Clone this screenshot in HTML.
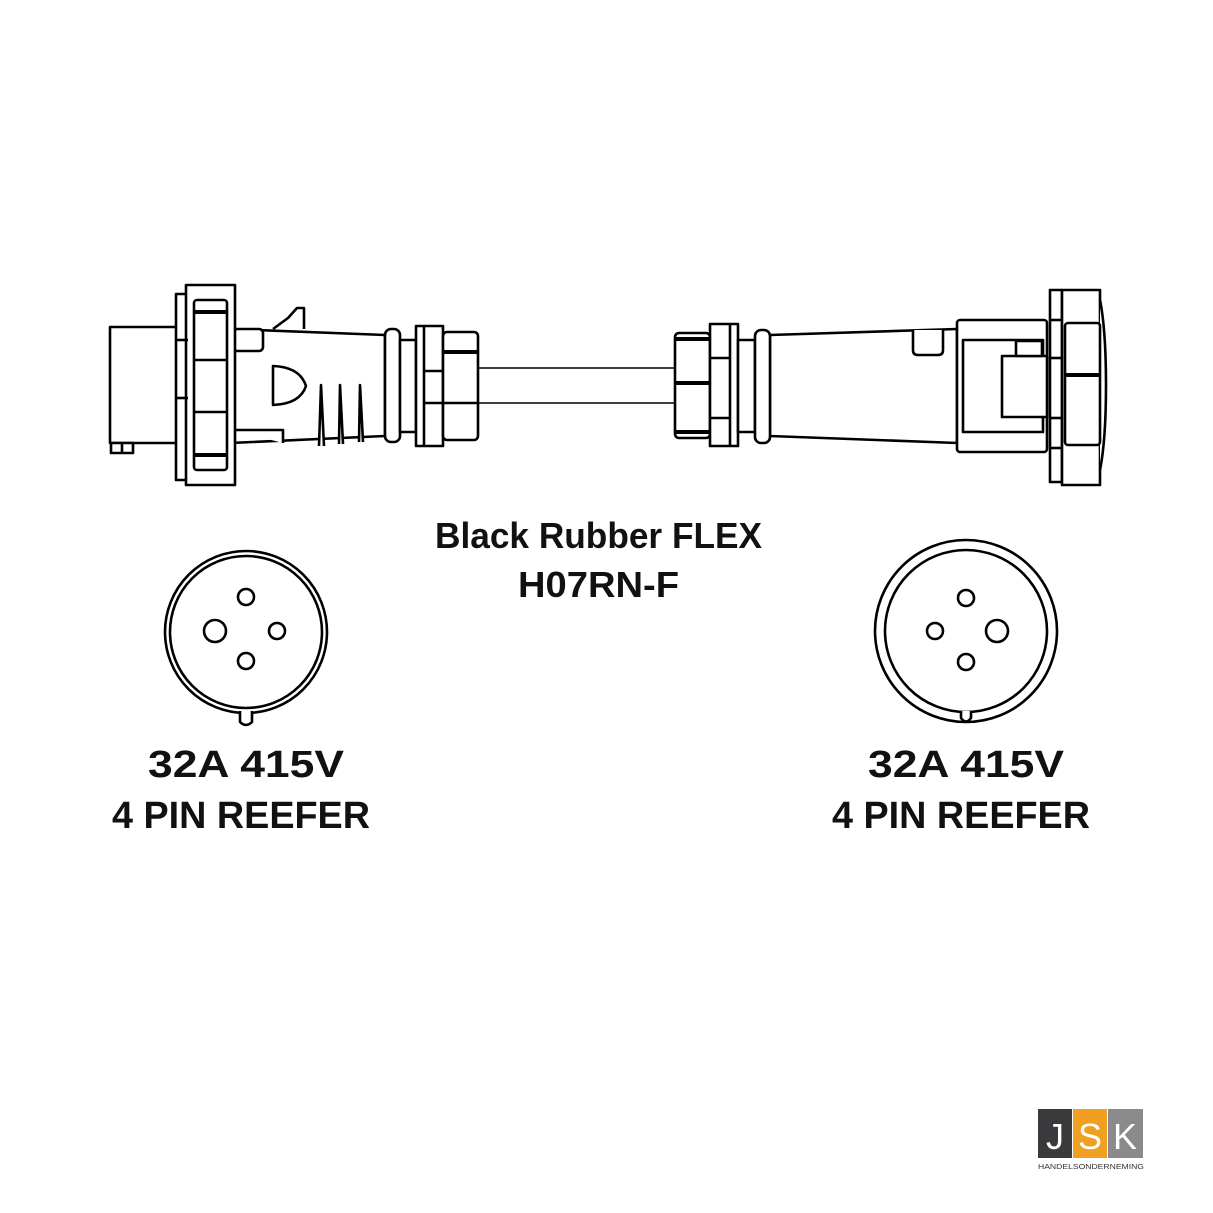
<!DOCTYPE html>
<html><head><meta charset="utf-8"><style>html,body{margin:0;padding:0;background:#fff}svg{display:block}</style></head>
<body>
<svg width="1213" height="1213" viewBox="0 0 1213 1213" xmlns="http://www.w3.org/2000/svg">
<g fill="#fff" stroke="#000" stroke-width="2.6" stroke-linejoin="round">
<!-- LEFT PLUG -->
<rect x="110" y="327" width="68" height="116"/>
<rect x="111" y="443" width="22" height="10"/>
<line x1="122" y1="443" x2="122" y2="453"/>
<polygon points="230,329 385,335 385,436 230,443"/>
<path d="M273,329 L288,318 L297,308 L304,308 L304,329"/>
<rect x="233" y="329" width="30" height="22" rx="4"/>
<path d="M233,430 L283,430 L283,443"/>
<path d="M273,366 Q300,367 306,386 Q300,404 273,405 Z"/>
<path d="M319,446 L321,385 L324,446 M339,444 L340,385 L343,444 M359,442 L360,385 L363,442"/>
<rect x="385" y="329" width="15" height="113" rx="6"/>
<rect x="400" y="340" width="16" height="92"/>
<rect x="416" y="326" width="27" height="120"/>
<line x1="424" y1="326" x2="424" y2="446"/>
<rect x="443" y="332" width="35" height="108" rx="4"/>
<line x1="443" y1="352" x2="478" y2="352" stroke-width="4"/>
<line x1="443" y1="403" x2="478" y2="403"/>
<line x1="424" y1="371" x2="443" y2="371"/>
<line x1="424" y1="403" x2="443" y2="403"/>
<rect x="176" y="294" width="12" height="186"/>
<rect x="186" y="285" width="49" height="200"/>
<rect x="194" y="300" width="33" height="170" rx="3"/>
<line x1="194" y1="312" x2="227" y2="312" stroke-width="4"/>
<line x1="194" y1="360" x2="227" y2="360"/>
<line x1="194" y1="412" x2="227" y2="412"/>
<line x1="194" y1="455" x2="227" y2="455" stroke-width="4"/>
<line x1="176" y1="340" x2="188" y2="340"/>
<line x1="176" y1="398" x2="188" y2="398"/>
<!-- CABLE -->
<line x1="478" y1="368" x2="675" y2="368" stroke-width="1.6"/>
<line x1="478" y1="403" x2="675" y2="403" stroke-width="1.6"/>
<!-- RIGHT SOCKET -->
<polygon points="770,335 957,329 957,443 770,436"/>
<path d="M913,330 L913,350 Q913,355 918,355 L938,355 Q943,355 943,350 L943,330"/>
<rect x="675" y="333" width="35" height="105" rx="4"/>
<line x1="675" y1="339" x2="710" y2="339" stroke-width="4"/>
<line x1="675" y1="383" x2="710" y2="383" stroke-width="4"/>
<line x1="675" y1="432" x2="710" y2="432" stroke-width="4"/>
<rect x="710" y="324" width="28" height="122"/>
<line x1="730" y1="324" x2="730" y2="446"/>
<line x1="710" y1="358" x2="730" y2="358"/>
<line x1="710" y1="418" x2="730" y2="418"/>
<rect x="738" y="340" width="17" height="92"/>
<rect x="755" y="330" width="15" height="113" rx="6"/>
<rect x="957" y="320" width="90" height="132" rx="3"/>
<rect x="963" y="340" width="80" height="92"/>
<rect x="1002" y="356" width="45" height="61"/>
<rect x="1016" y="341" width="26" height="15"/>
<rect x="1050" y="290" width="12" height="192"/>
<rect x="1062" y="290" width="38" height="195"/>
<path d="M1100,300 Q1106,330 1106,385 Q1106,440 1100,470"/>
<rect x="1065" y="323" width="35" height="122" rx="3"/>
<line x1="1065" y1="375" x2="1100" y2="375" stroke-width="4"/>
<line x1="1050" y1="320" x2="1062" y2="320"/>
<line x1="1050" y1="358" x2="1062" y2="358"/>
<line x1="1050" y1="418" x2="1062" y2="418"/>
<line x1="1050" y1="448" x2="1062" y2="448"/>
<!-- LEFT FACE -->
<circle cx="246" cy="632" r="81"/>
<circle cx="246" cy="632" r="76"/>
<path d="M240,711 L240,722 Q246,728 252,722 L252,711" />
<circle cx="246" cy="597" r="8"/>
<circle cx="215" cy="631" r="11"/>
<circle cx="277" cy="631" r="8"/>
<circle cx="246" cy="661" r="8"/>
<!-- RIGHT FACE -->
<circle cx="966" cy="631" r="91"/>
<circle cx="966" cy="631" r="81"/>
<path d="M961,711 L961,718 Q966,725 971,718 L971,711" />
<circle cx="966" cy="598" r="8"/>
<circle cx="935" cy="631" r="8"/>
<circle cx="997" cy="631" r="11"/>
<circle cx="966" cy="662" r="8"/>
</g>
<g font-family="Liberation Sans, sans-serif" font-weight="bold" fill="#111">
<text x="435" y="548" font-size="36" textLength="327" lengthAdjust="spacingAndGlyphs">Black Rubber FLEX</text>
<text x="518" y="597" font-size="36" textLength="161" lengthAdjust="spacingAndGlyphs">H07RN-F</text>
<text x="148" y="777" font-size="38" textLength="196" lengthAdjust="spacingAndGlyphs">32A 415V</text>
<text x="112" y="828" font-size="38" textLength="258" lengthAdjust="spacingAndGlyphs">4 PIN REEFER</text>
<text x="868" y="777" font-size="38" textLength="196" lengthAdjust="spacingAndGlyphs">32A 415V</text>
<text x="832" y="828" font-size="38" textLength="258" lengthAdjust="spacingAndGlyphs">4 PIN REEFER</text>
</g>
<!-- LOGO -->
<rect x="1038" y="1109" width="34" height="49" fill="#3a3a3c"/>
<rect x="1073" y="1109" width="34" height="49" fill="#f0a020"/>
<rect x="1108" y="1109" width="35" height="49" fill="#8a8a8a"/>
<g font-family="Liberation Sans, sans-serif" fill="#fff" font-size="36" text-anchor="middle">
<text x="1055" y="1149">J</text><text x="1090" y="1149">S</text><text x="1125" y="1149">K</text>
</g>
<text x="1038" y="1169" font-family="Liberation Sans, sans-serif" font-size="7.5" fill="#333" textLength="106" lengthAdjust="spacingAndGlyphs">HANDELSONDERNEMING</text>
</svg>
</body></html>
